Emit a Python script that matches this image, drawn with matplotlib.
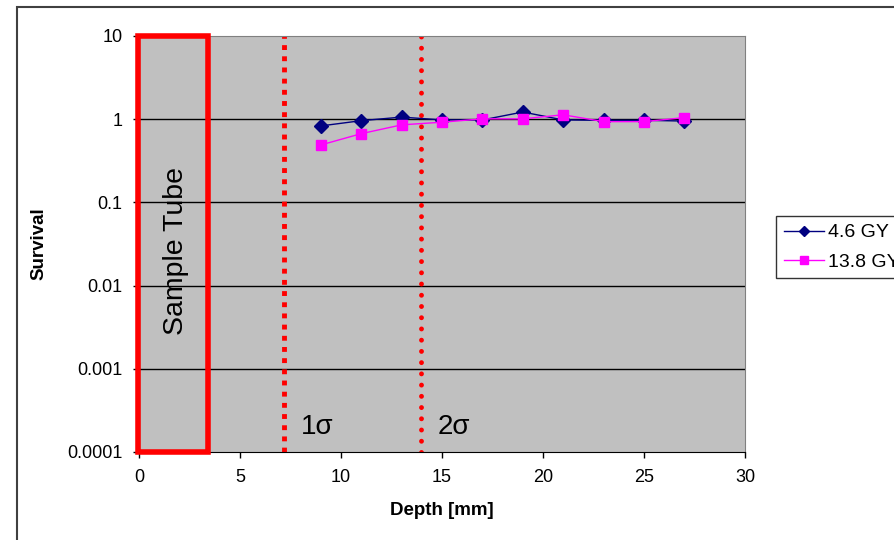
import matplotlib.pyplot as plt
from matplotlib.patches import Rectangle
from matplotlib.ticker import FixedLocator, NullLocator

plt.rcParams['font.family'] = ['Liberation Sans', 'DejaVu Sans']

depth = [9, 11, 13, 15, 17, 19, 21, 23, 25, 27]
surv_46 = [0.83, 0.96, 1.06, 0.98, 0.98, 1.22, 0.98, 0.97, 0.97, 0.95]
surv_138 = [0.49, 0.67, 0.855, 0.92, 1.01, 1.01, 1.13, 0.935, 0.935, 1.045]
sigma_pos = [7.18, 13.96]
sigma_lab = ['1σ', '2σ']
tube_width = 3.4

fig = plt.figure(figsize=(8.94, 5.4), dpi=100)
ax = fig.add_axes([139/894, 1 - 452/540, 606/894, 416/540])
ax.set_facecolor('#C0C0C0')
ax.set_yscale('log')
ax.set_xlim(0, 30)
ax.set_ylim(1e-4, 10)

yt = [1e-4, 1e-3, 1e-2, 1e-1, 1, 10]
ax.yaxis.set_major_locator(FixedLocator(yt))
ax.yaxis.set_minor_locator(NullLocator())
ax.set_yticklabels(['0.0001', '0.001', '0.01', '0.1', '1', '10'])
ax.set_xticks(range(0, 31, 5))
for y in yt[1:-1]:
    ax.axhline(y, color='black', lw=1, zorder=1)

ax.tick_params(direction='out', length=4, width=1, labelsize=13)
ax.tick_params(axis='x', pad=8)
ax.tick_params(axis='y', pad=8)
for s in ['top', 'right']:
    ax.spines[s].set_color('#808080')
for s in ['left', 'bottom']:
    ax.spines[s].set_color('black')

# sample tube box
ax.add_patch(Rectangle((-0.05, 1e-4), tube_width + 0.05, 10 - 1e-4, fill=False,
                       edgecolor='#FF0000', lw=4, zorder=3, clip_on=False))
ax.text(1.85, 0.026, 'Sample Tube', rotation=90, fontsize=20.5,
        ha='center', va='center')

# sigma lines: square dots then round dots
ax.axvline(sigma_pos[0], color='#FF0000', lw=3.5, ls=(0, (1, 1.3)),
           dash_capstyle='butt', zorder=2)
ax.axvline(sigma_pos[1], color='#FF0000', lw=3.5, ls=(0, (0.01, 2.3)),
           dash_capstyle='round', zorder=2)
for xp, lab in zip(sigma_pos, sigma_lab):
    ax.text(xp + 0.82, 2.0e-4, lab, fontsize=20, ha='left', va='center')

ax.plot(depth, surv_46, color='#000080', marker='D', ms=7, lw=1,
        label='4.6 GY', zorder=4)
ax.plot(depth, surv_138, color='#FF00FF', marker='s', ms=7, lw=1,
        label='13.8 GY', zorder=4)

ax.set_xlabel('Depth [mm]', fontsize=13.5, fontweight='bold', labelpad=12)
ax.set_ylabel('Survival', fontsize=13.5, fontweight='bold', labelpad=14)

leg = fig.legend(loc='upper left', bbox_to_anchor=(776/894, 1 - 216/540),
                 fontsize=14, frameon=True, fancybox=False, borderaxespad=0,
                 handlelength=2.05, handletextpad=0.2, borderpad=0.4,
                 labelspacing=0.6, markerscale=0.8)
leg.get_frame().set_edgecolor('black')
leg.get_frame().set_linewidth(1)

# outer chart border
fig.add_artist(Rectangle((17/894, -0.05), 1.1, 1 - 7/540 + 0.05,
                         transform=fig.transFigure, fill=False,
                         edgecolor='#404040', lw=1.5))

fig.savefig('out.png', dpi=100)
